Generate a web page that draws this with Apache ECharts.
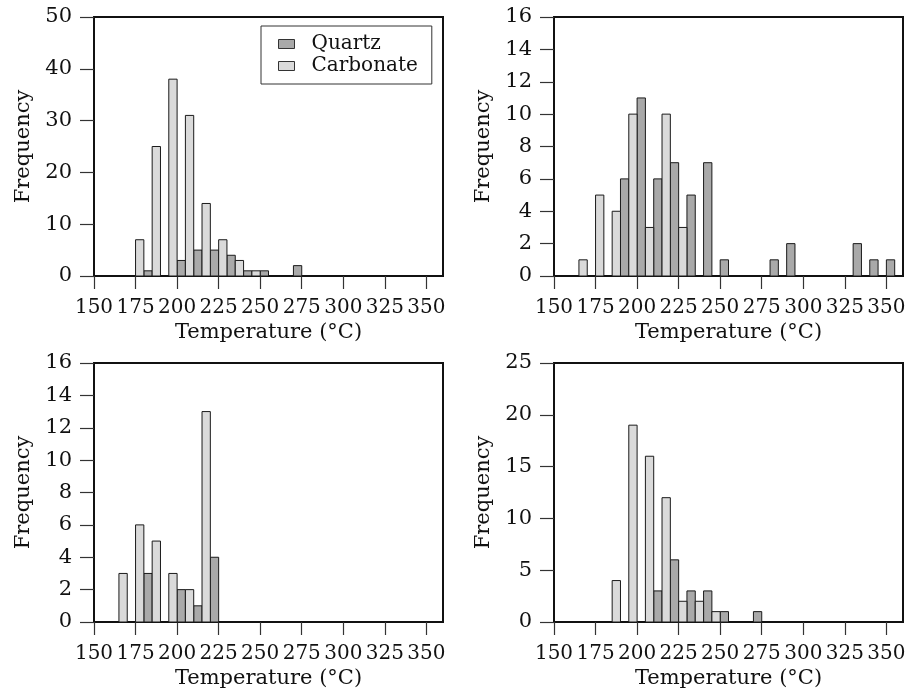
<!DOCTYPE html>
<html>
<head>
<meta charset="utf-8">
<script src="https://cdn.jsdelivr.net/npm/echarts@6/dist/echarts.min.js"></script>
<style>
  html, body { margin: 0; padding: 0; background: #fff; }
  #chart { width: 910px; height: 691px; }
</style>
</head>
<body>
<div id="chart"></div>
<script>
// left edge of each 10 °C bin; carbonate fills the left half, quartz the right half
const binStarts = [165, 175, 185, 195, 205, 215, 225, 235, 245, 255, 265, 275, 285, 295, 305, 315, 325, 335, 345];

const tlQuartz    = [0, 1, 0, 3, 5, 5, 4, 1, 1, 0, 2, 0, 0, 0, 0, 0, 0, 0, 0];
const tlCarbonate = [0, 7, 25, 38, 31, 14, 7, 3, 1, 0, 0, 0, 0, 0, 0, 0, 0, 0, 0];

const trQuartz    = [0, 0, 6, 11, 6, 7, 5, 7, 1, 0, 0, 1, 2, 0, 0, 0, 2, 1, 1];
const trCarbonate = [1, 5, 4, 10, 3, 10, 3, 0, 0, 0, 0, 0, 0, 0, 0, 0, 0, 0, 0];

const blQuartz    = [0, 3, 0, 2, 1, 4, 0, 0, 0, 0, 0, 0, 0, 0, 0, 0, 0, 0, 0];
const blCarbonate = [3, 6, 5, 3, 2, 13, 0, 0, 0, 0, 0, 0, 0, 0, 0, 0, 0, 0, 0];

const brQuartz    = [0, 0, 0, 0, 3, 6, 3, 3, 1, 0, 1, 0, 0, 0, 0, 0, 0, 0, 0];
const brCarbonate = [0, 0, 4, 19, 16, 12, 2, 2, 1, 0, 0, 0, 0, 0, 0, 0, 0, 0, 0];

const xTicks = [150, 175, 200, 225, 250, 275, 300, 325, 350];
const yMax = [50, 16, 16, 25];
const yStep = [10, 2, 2, 5];

const FONT = '"DejaVu Serif", serif';
const quartzColor = '#a9a9a9';
const carbonateColor = '#dadada';

const panels = [
  { quartz: tlQuartz, carbonate: tlCarbonate, left: 94,  top: 17 },
  { quartz: trQuartz, carbonate: trCarbonate, left: 554, top: 17 },
  { quartz: blQuartz, carbonate: blCarbonate, left: 94,  top: 363 },
  { quartz: brQuartz, carbonate: brCarbonate, left: 554, top: 363 }
];

// each bar is 5 °C wide, drawn from the axes' own coordinates
function renderBar(params, api) {
  const x0 = api.value(0);
  const y = api.value(1);
  if (!y) return null;
  const p0 = api.coord([x0, 0]);
  const p1 = api.coord([x0 + 5, y]);
  return {
    type: 'rect',
    shape: { x: p0[0], y: p1[1], width: p1[0] - p0[0], height: p0[1] - p1[1] },
    style: { fill: api.visual('color'), stroke: '#1a1a1a', lineWidth: 1 }
  };
}

const grid = [], xAxis = [], yAxis = [], series = [];
panels.forEach(function (p, i) {
  grid.push({
    left: p.left, top: p.top, width: 349, height: 259,
    show: true, borderColor: '#111', borderWidth: 2, backgroundColor: 'transparent'
  });
  xAxis.push({
    gridIndex: i, type: 'value', min: 150, max: 360, interval: 25,
    name: 'Temperature (°C)', nameLocation: 'middle', nameGap: 46,
    nameTextStyle: { fontFamily: FONT, fontSize: 21, color: '#111' },
    axisLine: { show: true, onZero: false, lineStyle: { color: '#111', width: 2 } },
    axisTick: { show: true, length: 13, customValues: xTicks, lineStyle: { color: '#333', width: 1.2 } },
    axisLabel: { customValues: xTicks, margin: 22, fontFamily: FONT, fontSize: 20, color: '#111' },
    splitLine: { show: false }
  });
  yAxis.push({
    gridIndex: i, type: 'value', min: 0, max: yMax[i], interval: yStep[i],
    name: 'Frequency', nameLocation: 'middle', nameGap: 60,
    nameTextStyle: { fontFamily: FONT, fontSize: 21, color: '#111' },
    axisLine: { show: true, lineStyle: { color: '#111', width: 2 } },
    axisTick: { show: true, length: 14, lineStyle: { color: '#333', width: 1.2 } },
    axisLabel: { margin: 22, fontFamily: FONT, fontSize: 21, color: '#111' },
    splitLine: { show: false }
  });
  series.push({
    name: 'Quartz', type: 'custom', xAxisIndex: i, yAxisIndex: i,
    renderItem: renderBar, encode: { x: 0, y: 1 },
    itemStyle: { color: quartzColor },
    data: binStarts.map(function (s, k) { return [s + 5, p.quartz[k]]; })
  });
  series.push({
    name: 'Carbonate', type: 'custom', xAxisIndex: i, yAxisIndex: i,
    renderItem: renderBar, encode: { x: 0, y: 1 },
    itemStyle: { color: carbonateColor },
    data: binStarts.map(function (s, k) { return [s, p.carbonate[k]]; })
  });
});

const chart = echarts.init(document.getElementById('chart'), null, { renderer: 'canvas' });
chart.setOption({
  animation: false,
  backgroundColor: '#fff',
  legend: {
    data: ['Quartz', 'Carbonate'],
    orient: 'vertical', left: 261, top: 26,
    padding: [8, 14, 8, 17], itemGap: 2,
    itemWidth: 16, itemHeight: 9, icon: 'rect',
    itemStyle: { borderColor: '#333', borderWidth: 1 },
    borderColor: '#333', borderWidth: 1, backgroundColor: '#fff',
    textStyle: { fontFamily: FONT, fontSize: 20, color: '#111', padding: [0, 0, 0, 12] }
  },
  grid: grid,
  xAxis: xAxis,
  yAxis: yAxis,
  series: series
});
</script>
</body>
</html>
